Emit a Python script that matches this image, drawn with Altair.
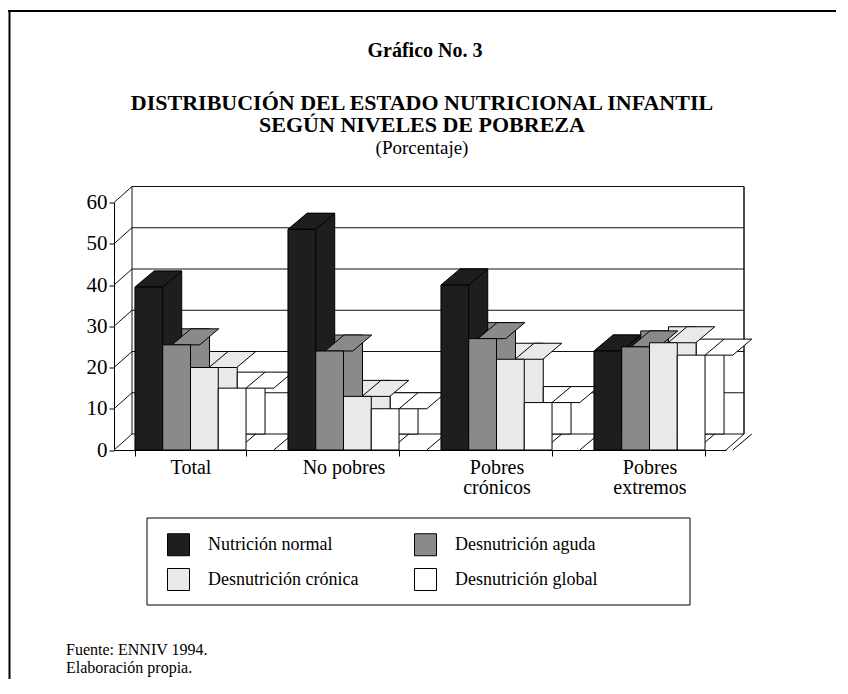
import altair as alt
import pandas as pd

# ---------------- data ----------------
categories = ["Total", "No pobres", "Pobres crónicos", "Pobres extremos"]
series = ["Nutrición normal", "Desnutrición aguda", "Desnutrición crónica", "Desnutrición global"]
nutricion_normal = [39.5, 53.5, 40.0, 24.0]
desnutricion_aguda = [25.5, 24.0, 27.0, 25.0]
desnutricion_cronica = [20.0, 13.0, 22.0, 26.0]
desnutricion_global = [15.0, 10.0, 11.5, 23.0]
y_ticks = [0, 10, 20, 30, 40, 50, 60]
colors = ["#1e1e1e", "#8a8a8a", "#e9e9e9", "#ffffff"]

title_top = "Gráfico No. 3"
title_line1 = "DISTRIBUCIÓN DEL ESTADO NUTRICIONAL INFANTIL"
title_line2 = "SEGÚN NIVELES DE POBREZA"
subtitle = "(Porcentaje)"
source_line1 = "Fuente: ENNIV 1994."
source_line2 = "Elaboración propia."

values_by_series = [nutricion_normal, desnutricion_aguda, desnutricion_cronica, desnutricion_global]
rows = []
for i, c in enumerate(categories):
    for s, vals in zip(series, values_by_series):
        rows.append({"cat": c, "serie": s, "value": vals[i]})
df = pd.DataFrame(rows)
ticks_df = pd.DataFrame({"t": y_ticks})
dummy = pd.DataFrame({"k": [0]})

# ---------------- layout ----------------
W, H = 612, 247.5
PAD_IN, PAD_OUT = 0.274, 0.137
step = W / (len(categories) - PAD_IN + 2 * PAD_OUT)
BW = step * (1 - PAD_IN)
SUB = BW / len(series)
DX, DY = 19, 16      # bar depth
WX, WY = 18, 16      # wall depth
u = SUB / 2.0
# symbol anchored at the left edge of each bar's slot: 0..2 units = bar width
top_path = f"M0,0L2,0L{2 + DX / u:.4f},{-DY / u:.4f}L{DX / u:.4f},{-DY / u:.4f}Z"
diag_path = f"M2,0L{2 + DX / u:.4f},{-DY / u:.4f}"
sym_size = SUB ** 2
serif = "Liberation Serif"

yscale = alt.Scale(domain=[y_ticks[0], y_ticks[-1]], nice=False, zero=True)
yaxis = alt.Axis(values=y_ticks, title=None, grid=False, domainColor="black", domainWidth=1,
                 tickColor="black", tickSize=5, tickWidth=1, labelFont=serif, labelFontSize=21,
                 labelColor="black", labelPadding=2)
xaxis = alt.Axis(title=None, labelAngle=0, tickBand="extent", tickSize=6, tickColor="black",
                 tickWidth=1, domainColor="black", domainWidth=1, grid=False,
                 labelFont=serif, labelFontSize=20, labelColor="black", labelPadding=1,
                 labelLineHeight=20,
                 labelExpr="substring(datum.label, 0, 6) == 'Pobres' ? split(datum.label, ' ') : datum.label")
x_enc = alt.X("cat:N", sort=categories,
              scale=alt.Scale(paddingInner=PAD_IN, paddingOuter=PAD_OUT), axis=xaxis)
y_enc = alt.Y("value:Q", scale=yscale, axis=yaxis)

legend = alt.Legend(orient="none", legendX=53, legendY=330.5, columns=2, direction="horizontal",
                    title=None, symbolType="square", symbolSize=484, symbolStrokeColor="black",
                    symbolStrokeWidth=1, symbolOpacity=1, labelFont=serif, labelFontSize=18,
                    labelColor="black", labelOffset=18, columnPadding=53, rowPadding=8,
                    padding=0)
fill_enc = alt.Fill("serie:N", sort=series, scale=alt.Scale(domain=series, range=colors),
                    legend=legend)


def xoff(shift):
    return alt.XOffset("serie:N", sort=series,
                       scale=alt.Scale(domain=series, range=[shift, BW + shift],
                                       paddingInner=0, paddingOuter=0))


# ---------------- walls ----------------
grid = alt.Chart(ticks_df).mark_rule(color="#111111", strokeWidth=1, yOffset=-WY).encode(
    y=alt.Y("t:Q", scale=yscale, axis=yaxis), x=alt.value(WX), x2=alt.value(W + WX))
side = alt.Chart(ticks_df).mark_rule(color="#111111", strokeWidth=1, y2Offset=-WY).encode(
    y=alt.Y("t:Q", scale=yscale, axis=yaxis), y2=alt.Y2("t"), x=alt.value(0), x2=alt.value(WX))
back_left = alt.Chart(dummy).mark_rule(color="#111111", strokeWidth=1, yOffset=-WY, y2Offset=-WY).encode(
    x=alt.value(WX), y=alt.datum(y_ticks[-1]), y2=alt.datum(y_ticks[0]))
back_right = alt.Chart(dummy).mark_rule(color="#111111", strokeWidth=1.5, yOffset=-WY, y2Offset=-WY).encode(
    x=alt.value(W + WX), y=alt.datum(y_ticks[-1]), y2=alt.datum(y_ticks[0]))
floor_right = alt.Chart(dummy).mark_rule(color="#111111", strokeWidth=1, y2Offset=-WY).encode(
    x=alt.value(W), x2=alt.value(W + WX), y=alt.datum(y_ticks[0]), y2=alt.datum(y_ticks[0]))

# ---------------- 3D bars ----------------
back = alt.Chart(df).mark_bar(stroke="black", strokeWidth=1, yOffset=-DY, y2Offset=-DY).encode(
    x=x_enc, xOffset=xoff(DX), y=y_enc, fill=fill_enc)
diags = alt.Chart(df).mark_point(shape=diag_path, size=sym_size, filled=False, opacity=1,
                                 stroke="black", strokeWidth=1).encode(
    x=x_enc, xOffset=xoff(0), y=alt.datum(y_ticks[0]))
tops = alt.Chart(df).mark_point(shape=top_path, size=sym_size, filled=True, opacity=1,
                                stroke="black", strokeWidth=1).encode(
    x=x_enc, xOffset=xoff(0), y=y_enc, fill=fill_enc)
front = alt.Chart(df).mark_bar(stroke="black", strokeWidth=1).encode(
    x=x_enc, xOffset=xoff(0), y=y_enc, fill=fill_enc)


# ---------------- texts and frames ----------------
def text_layer(txt, x, y, size, weight="normal", align="center"):
    return alt.Chart(dummy).mark_text(font=serif, fontSize=size, fontWeight=weight, align=align,
                                      baseline="alphabetic", color="black").encode(
        x=alt.value(x), y=alt.value(y), text=alt.value(txt))


t1 = text_layer(title_top, 311, -146, 20, "bold")
t2 = text_layer(title_line1, 308, -93, 22, "bold")
t3 = text_layer(title_line2, 308, -70.5, 22, "bold")
t4 = text_layer(subtitle, 308, -48.5, 19)
s1 = text_layer(source_line1, -48, 452, 16, align="left")
s2 = text_layer(source_line2, -48, 470, 16, align="left")

legend_box = alt.Chart(dummy).mark_rect(fill="transparent", stroke="black", strokeWidth=1).encode(
    x=alt.value(33), x2=alt.value(576), y=alt.value(315.5), y2=alt.value(402.5))
frame_top = alt.Chart(dummy).mark_rule(color="black", strokeWidth=2).encode(
    x=alt.value(-106), x2=alt.value(W + 110), y=alt.value(-191.5))
frame_left = alt.Chart(dummy).mark_rule(color="black", strokeWidth=2).encode(
    x=alt.value(-104.5), y=alt.value(-191.5), y2=alt.value(480))

chart = alt.layer(
    frame_top, frame_left, grid, side, back_left, back_right, floor_right,
    back, diags, tops, front, legend_box, t1, t2, t3, t4, s1, s2
).properties(
    width=W, height=H,
    autosize=alt.AutoSizeParams(type="none"),
    padding={"left": 106, "top": 194.5, "right": 110, "bottom": 229},
    background="white",
).resolve_scale(xOffset="independent").configure_view(stroke=None)

chart.save("out.html", embed_options={"renderer": "svg", "actions": False})
